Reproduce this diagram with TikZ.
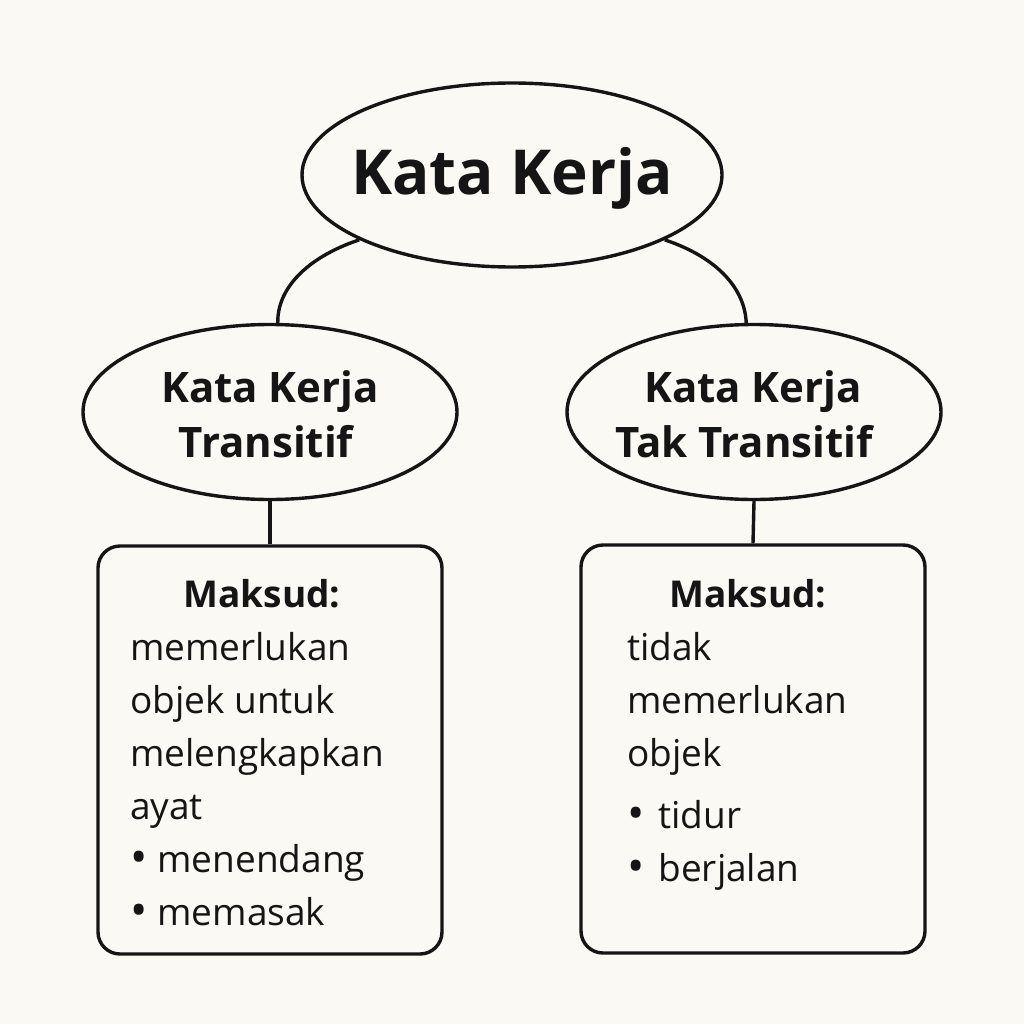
\documentclass[tikz,border=0pt]{standalone}
\usepackage{fontspec}
\setmainfont{Open Sans}
\usetikzlibrary{shapes.geometric}
\definecolor{bg}{HTML}{FAF9F3}
\definecolor{ink}{HTML}{151515}
\newcommand{\bul}{{\fontsize{46}{46}\selectfont\raisebox{-1pt}{•}}}
\begin{document}
\begin{tikzpicture}[x=1pt,y=-1pt,
  oval/.style={draw=ink,line width=3.4pt,ellipse,inner sep=0pt},
  card/.style={draw=ink,line width=3.4pt,rounded corners=22pt,minimum width=344pt,minimum height=408pt,inner sep=0pt},
  conn/.style={draw=ink,line width=3.4pt},
  body/.style={anchor=base west,inner sep=0pt,font=\fontsize{37}{37}\selectfont,text=ink},
  head/.style={anchor=base,inner sep=0pt,font=\fontsize{37}{37}\selectfont\bfseries,text=ink},
  sub/.style={anchor=base,inner sep=0pt,font=\fontsize{42}{42}\selectfont\bfseries,text=ink}]
\fill[bg] (0,0) rectangle (1024,1024);
\useasboundingbox (0,0) rectangle (1024,1024);
% ellipses
\node[oval,minimum width=420pt,minimum height=184pt] (top) at (512,175) {};
\node[oval,minimum width=374pt,minimum height=175pt] (L) at (270,412) {};
\node[oval,minimum width=374pt,minimum height=175pt] (R) at (754,412) {};
% cards
\node[card] (BL) at (270,750) {};
\node[card] (BR) at (753,749) {};
% connectors
\draw[conn] (top.203) .. controls (305,258) and (277,290) .. (L.85);
\draw[conn] (top.-23) .. controls (719,258) and (745,290) .. (R.95);
\draw[conn] (L.south) -- (BL.north);
\draw[conn] (R.south) -- (BR.north);
% titles
\node[anchor=base,inner sep=0pt,font=\fontsize{62}{62}\selectfont\bfseries,text=ink] (t0) at (512,195) {Kata Kerja};
\node[sub] (t1) at (270,402) {Kata Kerja};
\node[sub] (t2) at (266,457) {Transitif};
\node[sub] (t3) at (753,402) {Kata Kerja};
\node[sub] (t4) at (744,457) {Tak Transitif};
% left card text
\node[head] (l0) at (262,607) {Maksud:};
\node[body] (l1) at (130,660) {memerlukan};
\node[body] (l2) at (130,713) {objek untuk};
\node[body] (l3) at (130,766) {melengkapkan};
\node[body] (l4) at (130,819) {ayat};
\node[body] (l5) at (130,872) {\bul\hspace{10pt}menendang};
\node[body] (l6) at (130,925) {\bul\hspace{10pt}memasak};
% right card text
\node[head] (r0) at (748,607) {Maksud:};
\node[body] (r1) at (627,660) {tidak};
\node[body] (r2) at (627,713) {memerlukan};
\node[body] (r3) at (627,766) {objek};
\node[body] (r4) at (627,828) {\bul\hspace{14pt}tidur};
\node[body] (r5) at (627,881) {\bul\hspace{14pt}berjalan};
\end{tikzpicture}
\end{document}
